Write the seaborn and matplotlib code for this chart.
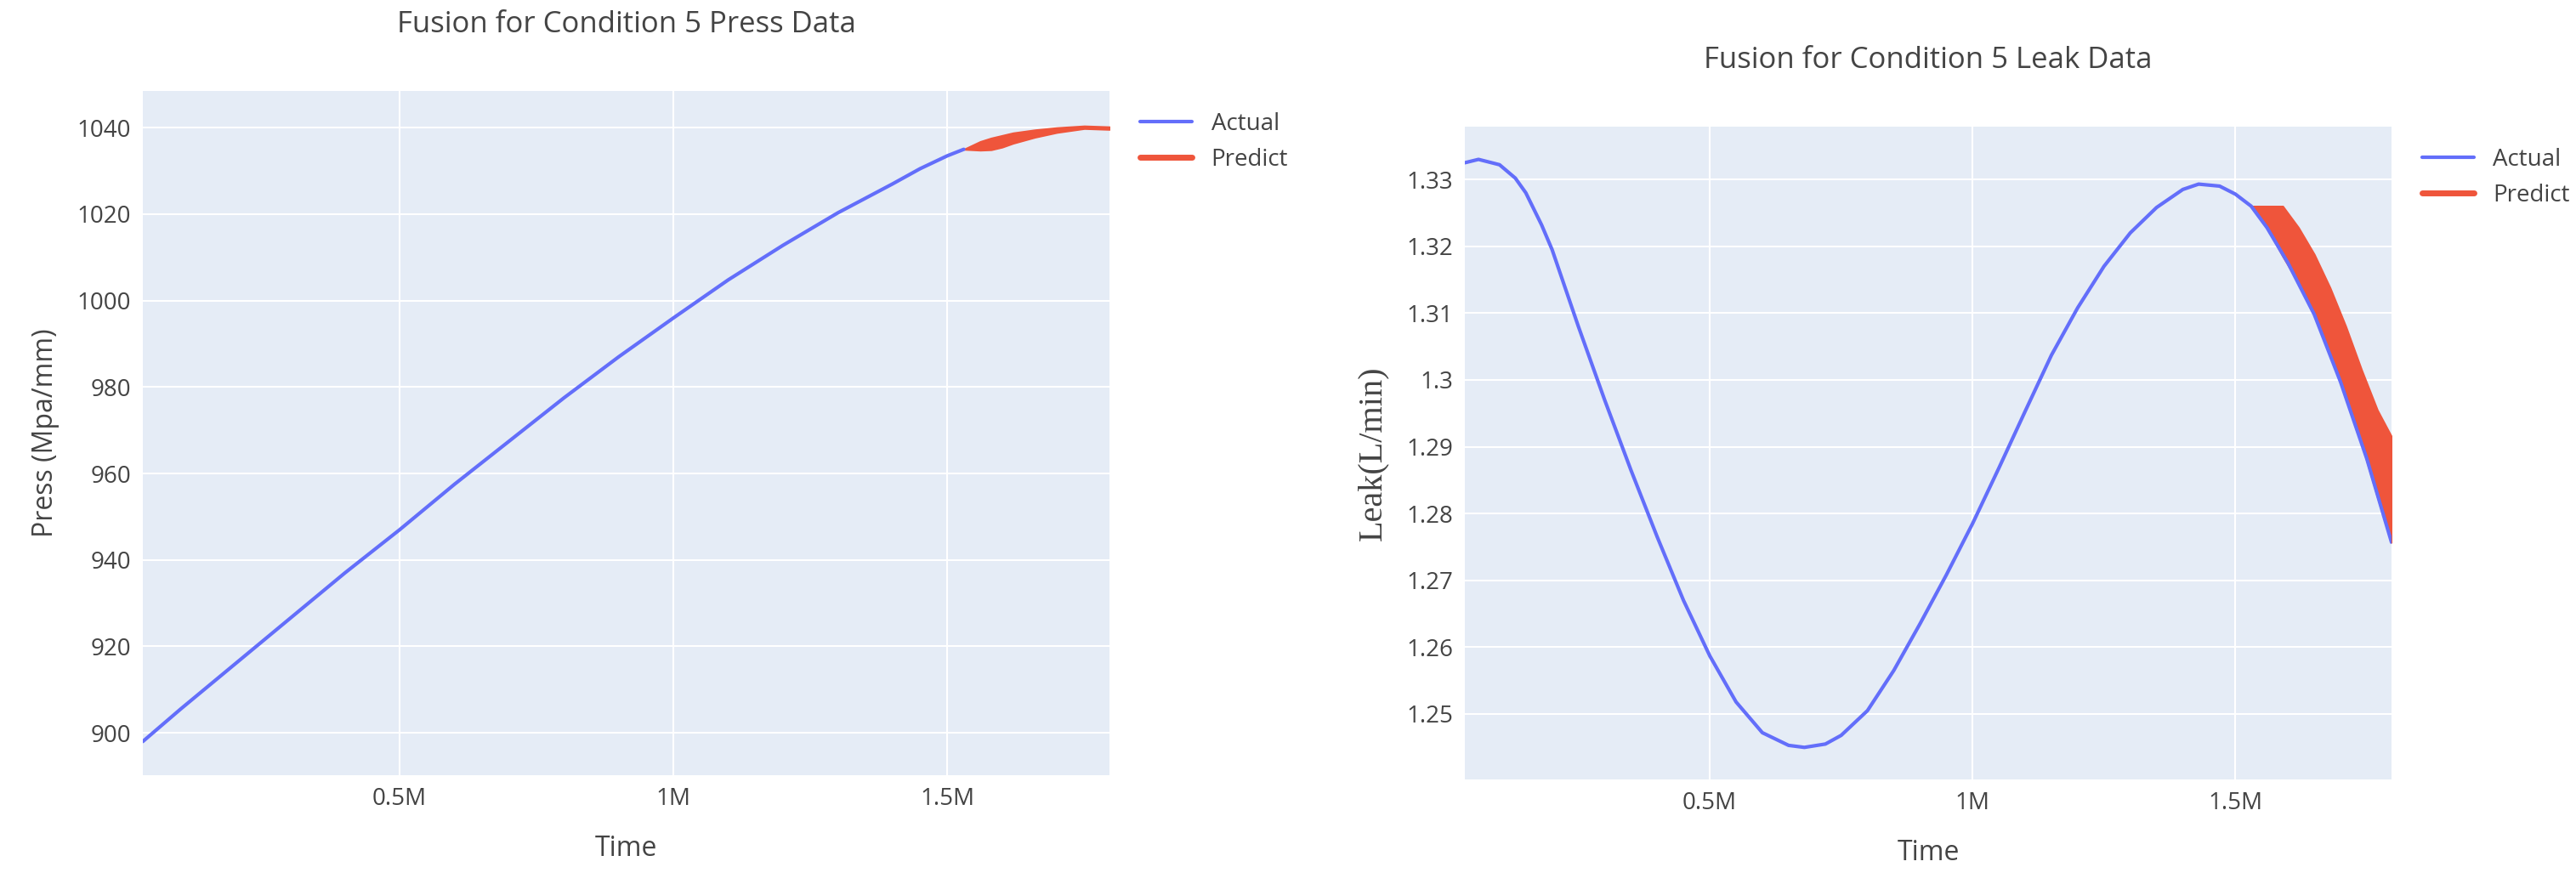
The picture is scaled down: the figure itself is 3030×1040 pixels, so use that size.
import matplotlib
matplotlib.use('Agg')
import matplotlib.pyplot as plt
import seaborn as sns

# press data (time in millions)
press_t = [0.031, 0.1, 0.2, 0.3, 0.4, 0.5, 0.6, 0.7, 0.8, 0.9, 1.0, 1.1, 1.2, 1.3, 1.4, 1.45, 1.5, 1.53]
press_actual = [898, 905.5, 916, 926.5, 937, 947, 957.5, 967.5, 977.5, 987, 996, 1004.8, 1012.8, 1020.3,
                1027, 1030.5, 1033.5, 1035]
press_pred_t = [1.53, 1.56, 1.58, 1.6, 1.62, 1.66, 1.7, 1.75, 1.796]
press_pred_hi = [1035, 1036.8, 1037.6, 1038.2, 1038.8, 1039.5, 1040, 1040.4, 1040.2]
press_pred_lo = [1035, 1034.8, 1034.9, 1035.5, 1036.4, 1037.8, 1038.9, 1039.8, 1039.6]

# leak data
leak_t = [0.034, 0.06, 0.1, 0.13, 0.15, 0.18, 0.2, 0.25, 0.3, 0.35, 0.4, 0.45, 0.5, 0.55, 0.6, 0.65, 0.68,
          0.72, 0.75, 0.8, 0.85, 0.9, 0.95, 1.0, 1.05, 1.1, 1.15, 1.2, 1.25, 1.3, 1.35, 1.4, 1.43, 1.47,
          1.5, 1.53, 1.56, 1.6, 1.65, 1.7, 1.75, 1.797]
leak_actual = [1.3325, 1.333, 1.3322, 1.3302, 1.328, 1.3232, 1.3195, 1.308, 1.297, 1.2865, 1.2765, 1.267,
               1.2587, 1.2518, 1.2472, 1.2453, 1.245, 1.2455, 1.2468, 1.2505, 1.2565, 1.2635, 1.2708,
               1.2785, 1.2868, 1.2953, 1.3037, 1.3108, 1.317, 1.322, 1.3258, 1.3285, 1.3293, 1.329,
               1.3278, 1.326, 1.3228, 1.3175, 1.3098, 1.2997, 1.2882, 1.2757]
leak_pred_t = [1.53, 1.56, 1.59, 1.62, 1.65, 1.68, 1.71, 1.74, 1.77, 1.797]
leak_pred_hi = [1.326, 1.326, 1.326, 1.3228, 1.3188, 1.3138, 1.308, 1.3015, 1.2955, 1.2915]
leak_pred_lo = [1.326, 1.3228, 1.3185, 1.3145, 1.3098, 1.3042, 1.2978, 1.2905, 1.2825, 1.2757]

BLUE = '#636EFA'
RED = '#EF553B'
GREY = '#444444'

sns.set_theme(style='darkgrid', rc={'axes.facecolor': '#E5ECF6', 'grid.color': 'white',
                                    'grid.linewidth': 1.5, 'axes.edgecolor': '#E5ECF6'})
plt.rcParams['font.family'] = ['Open Sans', 'DejaVu Sans']

fig = plt.figure(figsize=(30.3, 10.4), dpi=100)
ax1 = fig.add_axes([168 / 3030, 1 - 912 / 1040, 1137 / 3030, 805 / 1040])
ax2 = fig.add_axes([1723 / 3030, 1 - 917 / 1040, 1090 / 3030, 768 / 1040])

# press
sns.lineplot(x=press_t, y=press_actual, ax=ax1, color=BLUE, linewidth=3, label='Actual')
ax1.fill_between(press_pred_t, press_pred_lo, press_pred_hi, color=RED, linewidth=1.5, edgecolor=RED)
ax1.plot([], [], color=RED, linewidth=5, label='Predict')
ax1.set_xlim(0.031, 1.796)
ax1.set_ylim(890.2, 1048.5)
ax1.set_yticks(range(900, 1041, 20))
ax1.set_title('Fusion for Condition 5 Press Data', fontsize=25, color=GREY, pad=50)
ax1.set_ylabel('Press (Mpa/mm)', fontsize=23, color=GREY, labelpad=15)

# leak
sns.lineplot(x=leak_t, y=leak_actual, ax=ax2, color=BLUE, linewidth=3, label='Actual')
ax2.fill_between(leak_pred_t, leak_pred_lo, leak_pred_hi, color=RED, linewidth=1.5, edgecolor=RED)
ax2.plot([], [], color=RED, linewidth=5, label='Predict')
ax2.set_xlim(0.034, 1.797)
ax2.set_ylim(1.2402, 1.3379)
ax2.set_yticks([1.25, 1.26, 1.27, 1.28, 1.29, 1.30, 1.31, 1.32, 1.33])
ax2.set_yticklabels(['1.25', '1.26', '1.27', '1.28', '1.29', '1.3', '1.31', '1.32', '1.33'])
ax2.set_title('Fusion for Condition 5 Leak Data', fontsize=25, color=GREY, pad=50)
ax2.set_ylabel('Leak(L/min)', fontsize=29, color=GREY, family=['Liberation Serif', 'DejaVu Serif'], labelpad=15)

for ax in (ax1, ax2):
    ax.set_xticks([0.5, 1.0, 1.5])
    ax.set_xticklabels(['0.5M', '1M', '1.5M'])
    ax.set_xlabel('Time', fontsize=23, color=GREY, labelpad=20)
    ax.tick_params(axis='both', labelsize=20, labelcolor=GREY, length=0, pad=10)
    ax.grid(True, color='white', linewidth=1.5)
    for s in ax.spines.values():
        s.set_visible(False)
    ax.legend(loc='upper left', bbox_to_anchor=(1.01, 1.0), frameon=False, fontsize=20,
              handlelength=2.2, labelcolor=GREY)

fig.savefig('out.png', dpi=100, facecolor='white')
